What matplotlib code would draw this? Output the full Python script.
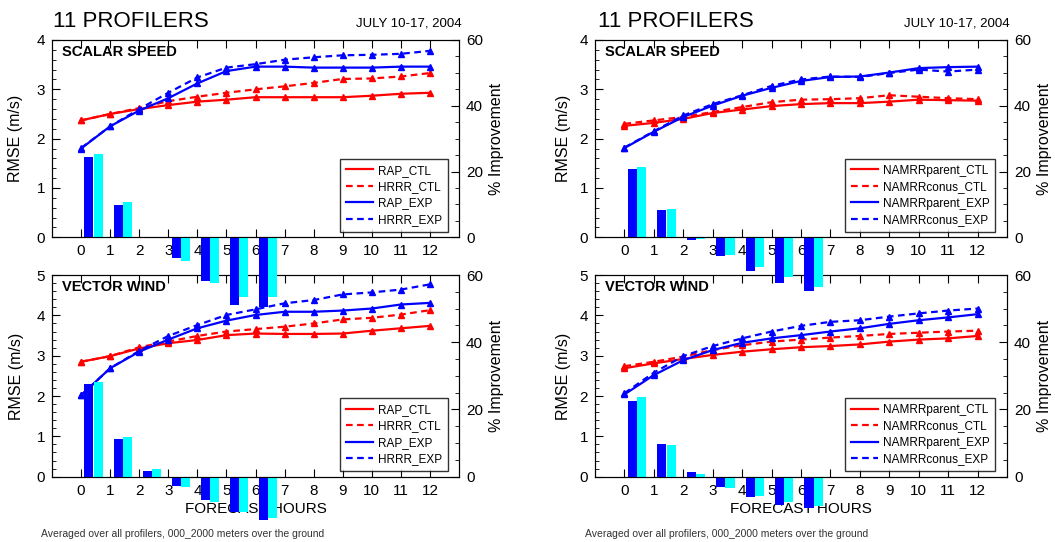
import matplotlib.pyplot as plt
from matplotlib.ticker import MultipleLocator

plt.rcParams['font.family'] = ['Liberation Sans', 'DejaVu Sans']

# data
hours = list(range(13))
bar_hours = list(range(7))

# scalar speed, RAP / HRRR
rap_ctl_spd = [2.37, 2.50, 2.60, 2.68, 2.75, 2.79, 2.84, 2.84, 2.84, 2.84, 2.87, 2.91, 2.93]
hrrr_ctl_spd = [2.37, 2.50, 2.62, 2.76, 2.85, 2.93, 3.00, 3.06, 3.13, 3.21, 3.22, 3.26, 3.33]
rap_exp_spd = [1.80, 2.25, 2.57, 2.82, 3.12, 3.37, 3.46, 3.46, 3.44, 3.44, 3.44, 3.46, 3.46]
hrrr_exp_spd = [1.81, 2.25, 2.60, 2.93, 3.24, 3.44, 3.51, 3.60, 3.65, 3.69, 3.70, 3.72, 3.78]
rap_imp_spd = [24.5, 9.7, 0.0, -6.4, -13.4, -20.5, -21.2]
hrrr_imp_spd = [25.2, 10.6, -0.2, -7.1, -13.9, -18.2, -18.2]

# vector wind, RAP / HRRR
rap_ctl_vec = [2.85, 2.99, 3.18, 3.31, 3.39, 3.51, 3.55, 3.54, 3.54, 3.55, 3.62, 3.68, 3.74]
hrrr_ctl_vec = [2.85, 2.99, 3.21, 3.35, 3.49, 3.60, 3.66, 3.72, 3.80, 3.90, 3.94, 4.02, 4.13]
rap_exp_vec = [2.02, 2.69, 3.10, 3.40, 3.68, 3.87, 4.01, 4.09, 4.09, 4.12, 4.17, 4.27, 4.31]
hrrr_exp_vec = [2.02, 2.69, 3.12, 3.49, 3.76, 4.01, 4.15, 4.30, 4.38, 4.52, 4.57, 4.64, 4.77]
rap_imp_vec = [27.7, 11.3, 1.8, -2.9, -6.9, -10.5, -12.8]
hrrr_imp_vec = [28.2, 11.8, 2.3, -3.2, -7.6, -10.6, -12.3]

# scalar speed, NAMRR parent / conus
par_ctl_spd = [2.26, 2.32, 2.40, 2.52, 2.59, 2.66, 2.70, 2.72, 2.72, 2.75, 2.79, 2.78, 2.77]
con_ctl_spd = [2.30, 2.37, 2.44, 2.54, 2.64, 2.74, 2.79, 2.80, 2.82, 2.88, 2.85, 2.82, 2.80]
par_exp_spd = [1.81, 2.14, 2.44, 2.67, 2.87, 3.03, 3.17, 3.25, 3.26, 3.34, 3.43, 3.45, 3.46]
con_exp_spd = [1.82, 2.15, 2.47, 2.70, 2.88, 3.07, 3.20, 3.26, 3.25, 3.33, 3.40, 3.36, 3.40]
par_imp_spd = [20.9, 8.3, -0.7, -5.8, -10.2, -13.9, -16.3]
con_imp_spd = [21.5, 8.5, -0.4, -5.5, -9.1, -12.1, -15.0]

# vector wind, NAMRR parent / conus
par_ctl_vec = [2.69, 2.81, 2.92, 3.02, 3.10, 3.16, 3.21, 3.24, 3.28, 3.35, 3.40, 3.43, 3.49]
con_ctl_vec = [2.74, 2.85, 2.98, 3.14, 3.26, 3.35, 3.40, 3.45, 3.49, 3.54, 3.57, 3.60, 3.62]
par_exp_vec = [2.04, 2.52, 2.89, 3.14, 3.32, 3.43, 3.51, 3.60, 3.68, 3.79, 3.88, 3.95, 4.03]
con_exp_vec = [2.07, 2.58, 2.99, 3.24, 3.43, 3.60, 3.74, 3.84, 3.88, 3.97, 4.05, 4.12, 4.17]
par_imp_vec = [22.4, 9.6, 1.3, -3.2, -6.1, -8.3, -9.3]
con_imp_vec = [23.6, 9.3, 0.8, -3.4, -5.6, -7.4, -8.8]

rap_names = ['RAP_CTL', 'HRRR_CTL', 'RAP_EXP', 'HRRR_EXP']
nam_names = ['NAMRRparent_CTL', 'NAMRRconus_CTL', 'NAMRRparent_EXP', 'NAMRRconus_EXP']

RED = '#ff0000'
BLUE = '#0000ff'
CYAN = '#00ffff'
DASH = (0, (3, 2))

fig = plt.figure(figsize=(10.55, 5.42), dpi=100)


def panel(rect, ymax, ctl1, ctl2, exp1, exp2, imp1, imp2, names, title, z, xlabel, ylab_x):
    ax = fig.add_axes(rect, facecolor='none')
    ax.set_zorder(z)
    kw = dict(marker='^', markersize=4.5, lw=1.6)
    ax.plot(hours, ctl1, color=RED, label=names[0], **kw)
    ax.plot(hours, ctl2, color=RED, ls=DASH, label=names[1], **kw)
    ax.plot(hours, exp1, color=BLUE, label=names[2], **kw)
    ax.plot(hours, exp2, color=BLUE, ls=DASH, label=names[3], **kw)
    ax.set_xlim(-1, 13)
    ax.set_ylim(0, ymax)
    ax.set_xticks(hours)
    ax.yaxis.set_major_locator(MultipleLocator(1))
    ax.yaxis.set_minor_locator(MultipleLocator(0.2))
    ax.tick_params(direction='in', top=True, labelsize=11, pad=5)
    ax.tick_params(which='major', length=6)
    ax.tick_params(which='minor', direction='in', length=3, left=True)
    ax.set_ylabel('RMSE (m/s)', fontsize=11.5)
    ax.yaxis.set_label_coords(ylab_x, 0.5)
    ax.text(0.025, 0.975, title, transform=ax.transAxes, fontsize=10.5,
            fontweight='bold', va='top', ha='left')
    if xlabel:
        ax.set_xlabel('FORECAST HOURS', fontsize=11)
        ax.xaxis.set_label_coords(0.5, -0.128)
    leg = ax.legend(loc='lower right', bbox_to_anchor=(0.972, 0.027),
                    borderaxespad=0, fontsize=8.5, frameon=True, fancybox=False,
                    edgecolor='black', handlelength=2.3, handletextpad=0.4,
                    labelspacing=0.38, borderpad=0.5)
    leg.get_frame().set_linewidth(1.0)
    for h in leg.get_lines():
        h.set_marker('')

    ax2 = ax.twinx()
    ax2.set_zorder(z + 1)
    ax2.bar([h + 0.27 for h in bar_hours], imp1, width=0.31, color=BLUE, clip_on=False)
    ax2.bar([h + 0.585 for h in bar_hours], imp2, width=0.31, color=CYAN, clip_on=False)
    ax2.set_ylim(0, 60)
    ax2.set_xlim(-1, 13)
    ax2.yaxis.set_major_locator(MultipleLocator(20))
    ax2.yaxis.set_minor_locator(MultipleLocator(5))
    ax2.tick_params(direction='in', labelsize=11, pad=5)
    ax2.tick_params(which='major', length=6)
    ax2.tick_params(which='minor', direction='in', length=3)
    ax2.set_ylabel('% Improvement', fontsize=11.5)
    ax2.yaxis.set_label_coords(1.073, 0.5)
    return ax


left_x, right_x = 0.0493, 0.564
w_l, w_r = 0.3858, 0.3905
top_rect_y, top_h = 0.5622, 0.364
bot_rect_y, bot_h = 0.1205, 0.372

panel([left_x, top_rect_y, w_l, top_h], 4, rap_ctl_spd, hrrr_ctl_spd, rap_exp_spd,
      hrrr_exp_spd, rap_imp_spd, hrrr_imp_spd, rap_names, 'SCALAR SPEED', 4, False, -0.071)
panel([left_x, bot_rect_y, w_l, bot_h], 5, rap_ctl_vec, hrrr_ctl_vec, rap_exp_vec,
      hrrr_exp_vec, rap_imp_vec, hrrr_imp_vec, rap_names, 'VECTOR WIND', 1, True, -0.068)
panel([right_x, top_rect_y, w_r, top_h], 4, par_ctl_spd, con_ctl_spd, par_exp_spd,
      con_exp_spd, par_imp_spd, con_imp_spd, nam_names, 'SCALAR SPEED', 4, False, -0.058)
panel([right_x, bot_rect_y, w_r, bot_h], 5, par_ctl_vec, con_ctl_vec, par_exp_vec,
      con_exp_vec, par_imp_vec, con_imp_vec, nam_names, 'VECTOR WIND', 1, True, -0.058)

for x0, x1 in [(0.0502, 0.4376), (0.567, 0.957)]:
    fig.text(x0, 0.951, '11 PROFILERS', fontsize=16, va='baseline', ha='left')
    fig.text(x1, 0.951, 'JULY 10-17, 2004', fontsize=9.5, va='baseline', ha='right')

for x0 in [0.0386, 0.5545]:
    fig.text(x0, 0.0148, 'Averaged over all profilers, 000_2000 meters over the ground',
             fontsize=7.5, color='#333333', va='center', ha='left')

fig.savefig('out.png', dpi=100, facecolor='white')
